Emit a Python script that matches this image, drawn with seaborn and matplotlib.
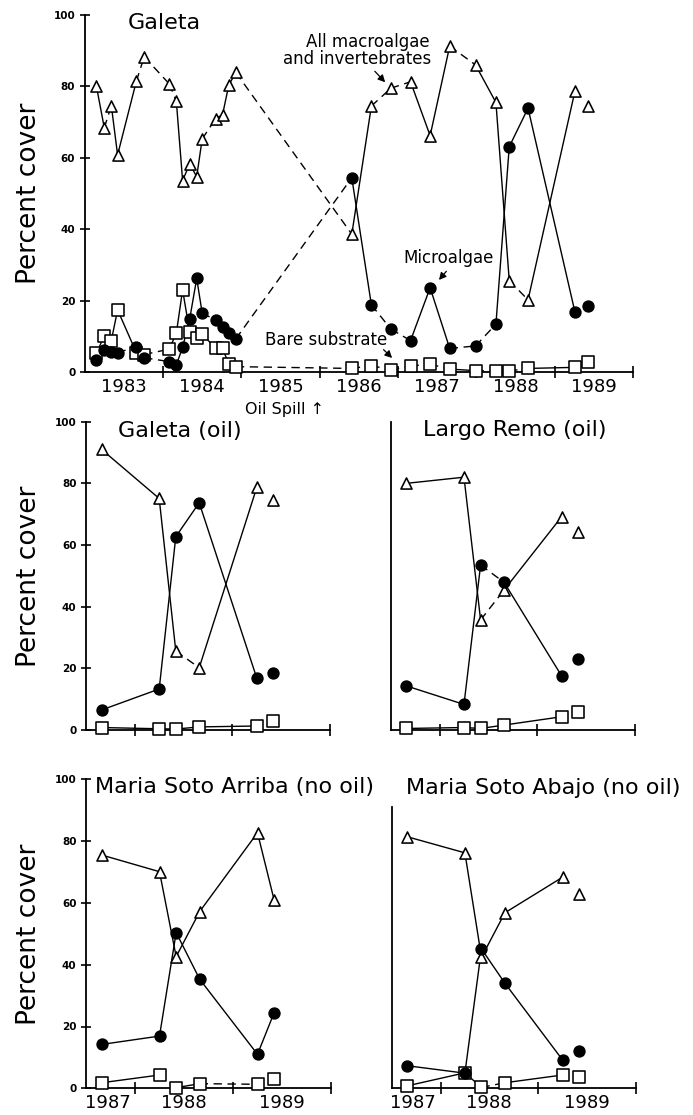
import matplotlib
matplotlib.use("Agg")
import matplotlib.pyplot as plt
import seaborn as sns

sns.set_theme(style="white")
plt.rcParams['font.family'] = ['DejaVu Sans']
plt.rcParams.update({"text.color": "black", "axes.labelcolor": "black",
                     "xtick.color": "black", "ytick.color": "black"})

# ---------------- Galeta long-term record ----------------
galeta_dates = [1983.15, 1983.25, 1983.34, 1983.42, 1983.66, 1983.76, 1984.08, 1984.17,
                1984.25, 1984.34, 1984.43, 1984.50, 1984.67, 1984.76, 1984.84, 1984.93,
                1986.41, 1986.66, 1986.91, 1987.16, 1987.41, 1987.66, 1987.99, 1988.25,
                1988.42, 1988.66, 1989.26, 1989.42]
galeta_macro = [80.0, 68.4, 74.6, 60.8, 81.5, 88.3, 80.7, 75.8, 53.6, 58.3, 54.7, 65.3,
                70.9, 72.1, 80.4, 83.9, 38.6, 74.5, 79.5, 81.3, 66.2, 91.3, 86.0, 75.5,
                25.6, 20.2, 78.8, 74.5]
galeta_micro = [3.4, 6.2, 5.7, 5.4, 7.1, 4.0, 2.9, 2.0, 6.9, 14.8, 26.2, 16.5,
                14.6, 12.5, 11.0, 9.3, 54.4, 18.8, 12.0, 8.8, 23.6, 6.6, 7.3, 13.4,
                63.1, 73.9, 16.7, 18.5]
galeta_bare = [5.2, 10.2, 8.8, 17.4, 5.4, 4.9, 6.4, 10.9, 23.0, 11.2, 9.4, 10.7,
               6.6, 6.6, 2.2, 1.5, 1.0, 1.8, 0.6, 1.7, 2.2, 0.8, 0.4, 0.3,
               0.3, 1.0, 1.3, 2.9]
# joins between consecutive samples: s = solid, d = dashed, n = not joined
galeta_macro_links = "s d s s d d d s s s s d s s d d s d d s s d s s d s n".split()
galeta_micro_links = "s s s d s d s s s s s d s s s d s d d s s d d s s s n".split()
galeta_bare_links = "s s s s s d s s s s s s s s s d d d d d d s d d d s n".split()

year_labels_long = ["1983", "1984", "1985", "1986", "1987", "1988", "1989"]
year_labels_short = ["1987", "1988", "1989"]

# ---------------- 1987-1989 comparison sites ----------------
site_dates = [1987.66, 1988.25, 1988.42, 1988.66, 1989.25, 1989.42]

galeta_oil_macro = [91.0, 75.1, 25.6, 20.2, 78.7, 74.6]
galeta_oil_micro = [6.5, 13.3, 62.7, 73.7, 16.8, 18.6]
galeta_oil_bare = [0.8, 0.4, 0.3, 1.0, 1.3, 2.9]

largo_macro = [80.0, 82.0, 35.7, 45.4, 69.2, 64.3]
largo_micro = [14.3, 8.3, 53.5, 47.9, 17.5, 22.9]
largo_bare = [0.5, 0.8, 0.5, 1.6, 4.3, 5.9]

arriba_macro = [75.5, 70.1, 42.6, 57.2, 82.7, 60.9]
arriba_micro = [14.2, 16.9, 50.4, 35.3, 11.0, 24.5]
arriba_bare = [1.8, 4.3, 0.2, 1.5, 1.3, 2.9]

abajo_macro = [81.4, 76.2, 42.4, 56.8, 68.3, 62.8]
abajo_micro = [7.3, 4.9, 45.1, 34.0, 9.2, 12.1]
abajo_bare = [0.8, 5.0, 0.3, 1.8, 4.3, 3.6]

W, H = 693, 1115
fig = plt.figure(figsize=(W / 100, H / 100), dpi=100)


def box(left, top, right, bottom):
    """Axes rectangle from pixel edges measured from the top-left corner."""
    return [left / W, 1 - bottom / H, (right - left) / W, (bottom - top) / H]


DASH = (0, (6.0, 4.0))


def draw_series(ax, dates, values, links, marker, face, size):
    for i, link in enumerate(links):
        if link == "n":
            continue
        ax.plot(dates[i:i + 2], values[i:i + 2], color="black", lw=1.0,
                ls="-" if link == "s" else DASH, zorder=2, clip_on=False)
    sns.scatterplot(x=dates, y=values, ax=ax, marker=marker, s=size, color=face,
                    edgecolor="black", linewidth=1.15, zorder=3, clip_on=False,
                    legend=False)


def draw_site(ax, dates, macro, micro, bare, macro_links, micro_links, bare_links):
    draw_series(ax, dates, bare, bare_links, "s", "white", 64)
    draw_series(ax, dates, macro, macro_links, "^", "white", 64)
    draw_series(ax, dates, micro, micro_links, "o", "black", 60)


def style_axes(ax, x0, x1, major, label_pos=None, labels=None, yticks=True, ytop=100):
    ax.set_xlim(x0, x1)
    ax.set_ylim(0, 100)
    for side in ("top", "right"):
        ax.spines[side].set_visible(False)
    for side in ("left", "bottom"):
        ax.spines[side].set_color("black")
        ax.spines[side].set_linewidth(1.3)
    ax.spines["left"].set_bounds(0, ytop)
    ax.set_xticks(major)
    ax.set_xticklabels([])
    if label_pos is not None:
        ax.set_xticks(label_pos, minor=True)
        ax.set_xticklabels(labels, minor=True, fontsize=13)
    ax.tick_params(axis="x", which="major", direction="inout", length=8,
                   width=1.2, color="black", bottom=True)
    ax.tick_params(axis="x", which="minor", length=0, pad=4, bottom=True,
                   labelcolor="black")
    if yticks:
        ax.set_yticks([0, 20, 40, 60, 80, 100])
        ax.set_yticklabels(["0", "20", "40", "60", "80", "100"],
                           fontsize=7.5, fontweight="bold")
        ax.tick_params(axis="y", direction="inout", length=7.5, width=1.2,
                       color="black", left=True, pad=3, labelcolor="black")
    else:
        ax.set_yticks([])
    ax.set_facecolor("white")


arrow_kw = dict(arrowstyle="-|>,head_length=0.35,head_width=0.18", color="black", lw=0.9)

# ---------------- top panel ----------------
ax_top = fig.add_axes(box(84.7, 15, 633, 372))
draw_site(ax_top, galeta_dates, galeta_macro, galeta_micro, galeta_bare,
          galeta_macro_links, galeta_micro_links, galeta_bare_links)
style_axes(ax_top, 1983, 1990, [1984, 1985, 1986, 1987, 1988, 1989, 1990],
           [y + 0.5 for y in range(1983, 1990)], year_labels_long)

ax_top.annotate("", xy=(1986.86, 80.6), xytext=(1986.68, 84.8), arrowprops=arrow_kw)
ax_top.text(1986.61, 92.5, "All macroalgae", ha="center", va="center", fontsize=12)
ax_top.text(1986.48, 87.6, "and invertebrates", ha="center", va="center", fontsize=12)

ax_top.text(1987.65, 31.8, "Microalgae", ha="center", va="center", fontsize=12)
ax_top.annotate("", xy=(1987.50, 25.2), xytext=(1987.64, 28.8), arrowprops=arrow_kw)

ax_top.text(1986.08, 9.0, "Bare substrate", ha="center", va="center", fontsize=12)
ax_top.annotate("", xy=(1986.95, 3.4), xytext=(1986.79, 6.8), arrowprops=arrow_kw)

fig.text(245 / W, 1 - 409 / H, "Oil Spill \u2191", ha="left", va="center",
         fontsize=11.5)

# ---------------- comparison panels ----------------
short_major = [1988, 1989, 1990]
short_label_pos = [1987.72, 1988.5, 1989.5]

ax_go = fig.add_axes(box(86, 421.7, 330, 730))
draw_site(ax_go, site_dates, galeta_oil_macro, galeta_oil_micro, galeta_oil_bare,
          "s s d s n".split(), "s s s s n".split(), "s s s s n".split())
style_axes(ax_go, 1987.5, 1990, short_major)

ax_lr = fig.add_axes(box(390.7, 421.7, 635, 730))
draw_site(ax_lr, site_dates, largo_macro, largo_micro, largo_bare,
          "s s d s n".split(), "s s d s n".split(), "s s s s n".split())
style_axes(ax_lr, 1987.5, 1990, short_major, yticks=False)

ax_ar = fig.add_axes(box(86, 779.3, 331, 1088.3))
draw_site(ax_ar, site_dates, arriba_macro, arriba_micro, arriba_bare,
          "s s s s s".split(), "s s s s s".split(), "s n s d n".split())
style_axes(ax_ar, 1987.5, 1990, short_major, short_label_pos, year_labels_short)

ax_ab = fig.add_axes(box(391.7, 779.3, 635.7, 1088.3))
draw_site(ax_ab, site_dates, abajo_macro, abajo_micro, abajo_bare,
          "s s s s n".split(), "s s s s n".split(), "s s d s n".split())
style_axes(ax_ab, 1987.5, 1990, short_major, short_label_pos, year_labels_short,
           yticks=False, ytop=91)

# ---------------- titles and axis titles ----------------
title_kw = dict(ha="left", va="center", fontsize=16, color="black")
fig.text(128 / W, 1 - 23 / H, "Galeta", **title_kw)
fig.text(118 / W, 1 - 431 / H, "Galeta (oil)", **title_kw)
fig.text(423 / W, 1 - 430 / H, "Largo Remo (oil)", **title_kw)
fig.text(95 / W, 1 - 787 / H, "Maria Soto Arriba (no oil)", **title_kw)
fig.text(406 / W, 1 - 788 / H, "Maria Soto Abajo (no oil)", **title_kw)

for yc in (193.5, 576, 934):
    fig.text(29 / W, 1 - yc / H, "Percent cover", rotation=90, ha="center",
             va="center", fontsize=19, color="black")

fig.savefig("out.png", dpi=100, facecolor="white")
